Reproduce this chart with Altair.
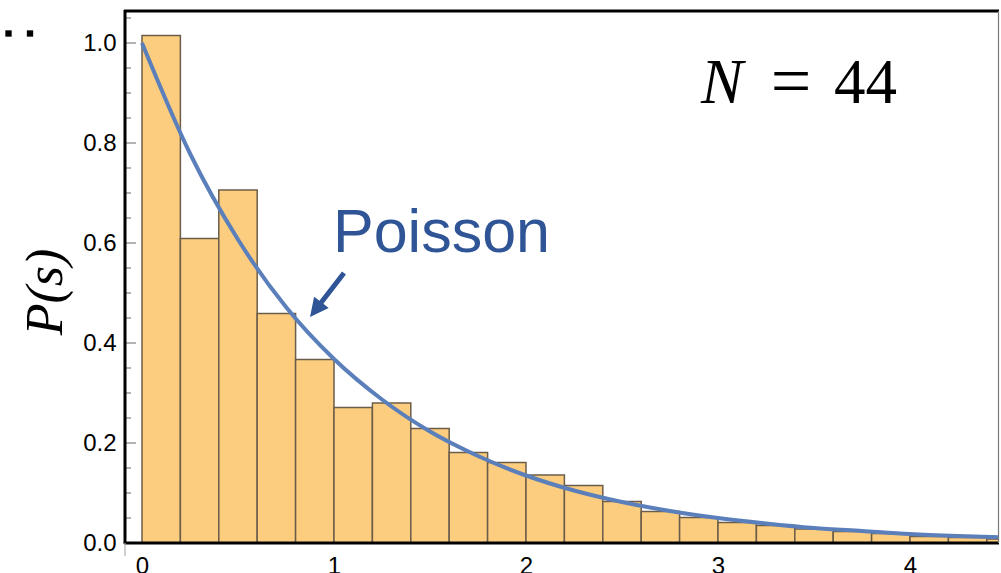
import altair as alt
import pandas as pd

# Histogram of nearest-neighbour spacings (bin width 0.2)
BIN_LEFT = [0.0, 0.2, 0.4, 0.6, 0.8, 1.0, 1.2, 1.4, 1.6, 1.8, 2.0, 2.2,
            2.4, 2.6, 2.8, 3.0, 3.2, 3.4, 3.6, 3.8, 4.0, 4.2, 4.4]
BIN_HEIGHT = [1.015, 0.609, 0.706, 0.459, 0.367, 0.271, 0.280, 0.229, 0.181,
              0.161, 0.136, 0.115, 0.083, 0.063, 0.051, 0.041, 0.035, 0.028,
              0.023, 0.019, 0.013, 0.011, 0.008]
BIN_WIDTH = 0.2

# Poisson reference curve P(s)
CURVE_S = [0.0, 0.25, 0.5, 0.75, 1.0, 1.25, 1.5, 1.75, 2.0, 2.25, 2.5, 2.75,
           3.0, 3.25, 3.5, 3.75, 4.0, 4.25, 4.5]
CURVE_P = [1.0, 0.779, 0.607, 0.472, 0.368, 0.287, 0.223, 0.174, 0.135,
           0.105, 0.082, 0.064, 0.050, 0.039, 0.030, 0.024, 0.018, 0.014,
           0.011]

X_TICKS = [0, 1, 2, 3, 4]
Y_TICKS = [0.0, 0.2, 0.4, 0.6, 0.8, 1.0]
Y_MINOR = [0.05, 0.1, 0.15, 0.25, 0.3, 0.35, 0.45, 0.5, 0.55, 0.65, 0.7,
           0.75, 0.85, 0.9, 0.95, 1.05]

W, H = 874, 532
BAR_FILL = "#fccd7e"
BAR_EDGE = "#6b5d4a"
CURVE_COLOR = "#5b7fba"
NOTE_COLOR = "#2f5597"

bars_df = pd.DataFrame({
    "s0": BIN_LEFT,
    "s1": [b + BIN_WIDTH for b in BIN_LEFT],
    "p": BIN_HEIGHT,
})
curve_df = pd.DataFrame({"s": CURVE_S, "p": CURVE_P})
major_df = pd.DataFrame({"v": Y_TICKS})
minor_df = pd.DataFrame({"v": Y_MINOR})
one = pd.DataFrame({"k": [0]})

xs = alt.Scale(domain=[-0.0885, 4.4635], nice=False, zero=False)
ys = alt.Scale(domain=[0, 1.064], nice=False)
x_axis = alt.Axis(values=X_TICKS, format="d", title=None,
                  labelPadding=11, labelFlush=False)
y_axis = alt.Axis(values=Y_TICKS, format=".1f", title=None, labelPadding=9)

bars = alt.Chart(bars_df).mark_rect(
    fill=BAR_FILL, stroke=BAR_EDGE, strokeWidth=1.5, clip=True
).encode(
    x=alt.X("s0:Q", scale=xs, axis=x_axis),
    x2="s1:Q",
    y=alt.Y("p:Q", scale=ys, axis=y_axis),
    y2=alt.datum(0),
)

curve = alt.Chart(curve_df).mark_line(
    color=CURVE_COLOR, strokeWidth=4, clip=True, interpolate="monotone"
).encode(
    x=alt.X("s:Q", scale=xs, axis=x_axis),
    y=alt.Y("p:Q", scale=ys, axis=y_axis),
)

# inward tick marks on the left frame
major_ticks = alt.Chart(major_df).mark_rule(color="#9a9a9a", strokeWidth=1.5).encode(
    y=alt.Y("v:Q", scale=ys, axis=y_axis), x=alt.value(0), x2=alt.value(11)
)
minor_ticks = alt.Chart(minor_df).mark_rule(color="#9a9a9a", strokeWidth=1.5).encode(
    y=alt.Y("v:Q", scale=ys, axis=y_axis), x=alt.value(0), x2=alt.value(6)
)

# frame
left_edge = alt.Chart(one).mark_rule(color="black", strokeWidth=3).encode(
    x=alt.value(0), y=alt.value(-1), y2=alt.value(H + 1))
bottom_edge = alt.Chart(one).mark_rule(color="black", strokeWidth=3).encode(
    y=alt.value(H), x=alt.value(-1), x2=alt.value(W))
top_edge = alt.Chart(one).mark_rule(color="black", strokeWidth=3).encode(
    y=alt.value(0), x=alt.value(-1), x2=alt.value(W))
right_edge = alt.Chart(one).mark_rule(color="#7a7a7a", strokeWidth=1.2).encode(
    x=alt.value(W - 0.5), y=alt.value(0), y2=alt.value(H))
stub = alt.Chart(one).mark_rule(color="#b0b0b0", strokeWidth=1.2).encode(
    x=alt.value(0), y=alt.value(H), y2=alt.value(H + 13))

# annotations
poisson = alt.Chart(one).mark_text(
    text="Poisson", font="Liberation Sans", fontSize=61, color=NOTE_COLOR,
    align="left", baseline="alphabetic"
).encode(x=alt.value(208), y=alt.value(241))

ARROW = ("M-0.09,1 L0.09,1 L0.09,-0.33 L0.33,-0.33 L0,-1 "
         "L-0.33,-0.33 L-0.09,-0.33 Z")
arrow = alt.Chart(one).mark_point(
    shape=ARROW, filled=True, fill=NOTE_COLOR, strokeWidth=0, opacity=1,
    size=3100, angle=217.6
).encode(x=alt.value(202), y=alt.value(284))

n_sym = alt.Chart(one).mark_text(
    text="N", font="Liberation Serif", fontStyle="italic", fontSize=63,
    color="black", align="left", baseline="alphabetic"
).encode(x=alt.value(576), y=alt.value(92))
n_eq = alt.Chart(one).mark_text(
    text="=", font="Liberation Serif", fontSize=72,
    color="black", align="center", baseline="alphabetic"
).encode(x=alt.value(666), y=alt.value(94))
n_val = alt.Chart(one).mark_text(
    text="44", font="Liberation Serif", fontSize=63,
    color="black", align="left", baseline="alphabetic"
).encode(x=alt.value(709), y=alt.value(92))

y_title = alt.Chart(one).mark_text(
    text="P(s)", font="Liberation Serif", fontStyle="italic", fontSize=52,
    color="black", align="center", baseline="alphabetic", angle=270
).encode(x=alt.value(-63), y=alt.value(281))

dot_a = alt.Chart(one).mark_square(size=40, color="black", opacity=1).encode(
    x=alt.value(-116.5), y=alt.value(22.5))
dot_b = alt.Chart(one).mark_square(size=40, color="black", opacity=1).encode(
    x=alt.value(-95), y=alt.value(22.5))

chart = alt.layer(
    bars, curve, minor_ticks, major_ticks,
    left_edge, bottom_edge, top_edge, right_edge, stub,
    poisson, arrow, n_sym, n_eq, n_val, y_title, dot_a, dot_b,
).properties(
    width=W, height=H,
    autosize=alt.AutoSizeParams(type="none"),
    padding={"left": 125, "top": 11, "right": 2, "bottom": 30},
).configure_view(
    stroke=None
).configure_axis(
    labelFont="Liberation Sans", labelFontSize=24, labelColor="black",
    grid=False, ticks=False, tickSize=0, domain=False,
)

chart.save("out.html", embed_options={"renderer": "svg", "actions": False})
